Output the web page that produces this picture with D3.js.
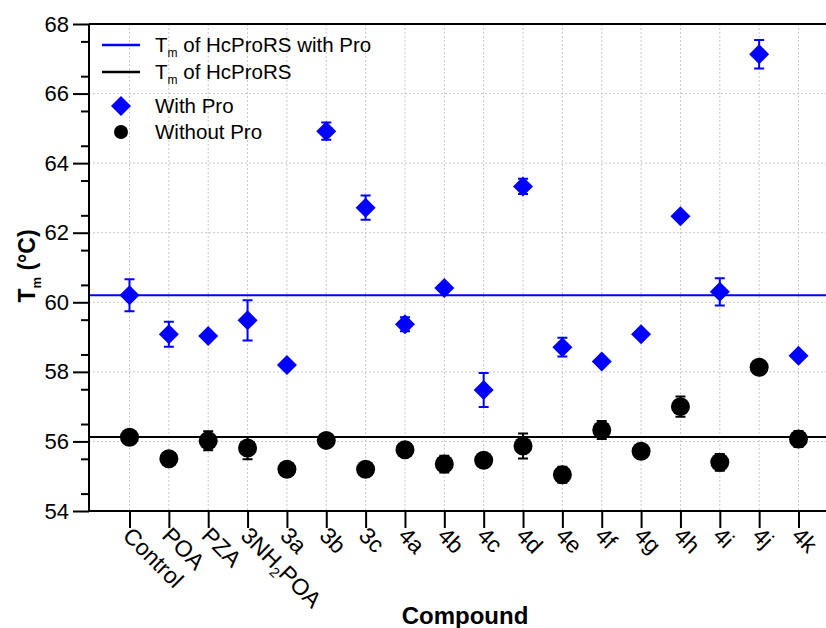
<!DOCTYPE html>
<html>
<head>
<meta charset="utf-8">
<script src="https://cdn.jsdelivr.net/npm/d3@7"></script>
<style>
  body { margin: 0; background: #fff; }
  text { font-family: "Liberation Sans", Arial, sans-serif; }
</style>
</head>
<body>
<div id="chart"></div>
<script>
/* Tm of HcProRS with / without Pro for each compound */

const compounds = ["Control", "POA", "PZA", "3NH2POA", "3a", "3b", "3c", "4a", "4b", "4c",
    "4d", "4e", "4f", "4g", "4h", "4i", "4j", "4k"];

const withPro = [60.2, 59.08, 59.03, 59.48, 58.2, 64.92, 62.72, 59.37, 60.41, 57.48,
    63.33, 58.71, 58.3, 59.08, 62.47, 60.3, 67.13, 58.46];
const withProErr = [0.46, 0.36, 0.1, 0.58, 0.1, 0.25, 0.35, 0.2, 0.1, 0.49,
    0.22, 0.27, 0.1, 0.1, 0.1, 0.39, 0.41, 0.1];

const withoutPro = [56.12, 55.5, 56.02, 55.81, 55.2, 56.03, 55.2, 55.76, 55.35, 55.46,
    55.87, 55.04, 56.33, 55.72, 57.0, 55.4, 58.13, 56.07];
const withoutProErr = [0.1, 0.1, 0.27, 0.32, 0.1, 0.1, 0.1, 0.1, 0.24, 0.1,
    0.36, 0.23, 0.26, 0.1, 0.29, 0.24, 0.1, 0.23];

const refWithPro = 60.2, refWithout = 56.13;
const yTicks = [54, 56, 58, 60, 62, 64, 66, 68];

const width = 826, height = 628;
const margin = { top: 24, right: -11, bottom: 117, left: 89 };

let svg = d3.select("#chart")
    .append("svg")
    .attr("width", width)
    .attr("height", height)
    .attr("viewBox", [0, 0, width, height]);

let x = d3.scalePoint()
    .domain(compounds)
    .range([129.5, 798.5]);

let y = d3.scaleLinear()
    .domain([54, 68])
    .range([height - margin.bottom, margin.top]);

const x0 = margin.left, x1 = width - margin.right;
const yb = y(54), yt = y(68);

/* grid */
svg.append("g")
    .selectAll("line")
    .data(compounds)
    .join("line")
    .attr("x1", d => x(d)).attr("x2", d => x(d))
    .attr("y1", yt).attr("y2", yb)
    .attr("stroke", "#c8c8c8")
    .attr("stroke-dasharray", "2,2");

svg.append("g")
    .selectAll("line")
    .data(yTicks.slice(1, -1))
    .join("line")
    .attr("x1", x0).attr("x2", x1)
    .attr("y1", d => y(d)).attr("y2", d => y(d))
    .attr("stroke", "#c8c8c8")
    .attr("stroke-dasharray", "2,2");

/* reference lines */
svg.append("line")
    .attr("x1", x0).attr("x2", x1)
    .attr("y1", y(refWithPro)).attr("y2", y(refWithPro))
    .attr("stroke", "#0000ff").attr("stroke-width", 2);
svg.append("line")
    .attr("x1", x0).attr("x2", x1)
    .attr("y1", y(refWithout)).attr("y2", y(refWithout))
    .attr("stroke", "#000").attr("stroke-width", 2);

/* axes */
let yAxis = svg.append("g")
    .attr("transform", `translate(${x0},0)`)
    .call(d3.axisLeft(y).tickValues(yTicks).tickSize(16).tickPadding(4).tickFormat(d3.format("d")));
yAxis.select(".domain").remove();
yAxis.selectAll("line").attr("stroke-width", 2);
yAxis.selectAll("text").style("font-size", "22px").attr("fill", "#000");

svg.append("g")
    .attr("transform", `translate(${x0},0)`)
    .call(d3.axisLeft(y).tickValues(d3.range(54.5, 68, 1)).tickSize(8).tickFormat(""))
    .call(g => g.select(".domain").remove())
    .selectAll("line").attr("stroke-width", 2);

let xAxis = svg.append("g")
    .attr("transform", `translate(0,${yb})`)
    .call(d3.axisBottom(x).tickSize(17).tickFormat(""));
xAxis.select(".domain").remove();
xAxis.selectAll("line").attr("stroke-width", 2);

/* x labels rotated */
let xl = svg.append("g")
    .selectAll("text")
    .data(compounds)
    .join("text")
    .attr("transform", d => `translate(${x(d) - 8},${yb + 26}) rotate(45)`)
    .style("font-size", "23px");
xl.each(function(d) {
    let t = d3.select(this);
    if (d === "3NH2POA") {
        t.append("tspan").text("3NH");
        t.append("tspan").text("2").style("font-size", "14px").attr("dy", 5);
        t.append("tspan").text("POA").attr("dy", -5);
    } else {
        t.text(d);
    }
});

/* frame */
svg.append("path")
    .attr("d", `M${x0},${yt}H${x1}M${x0},${yt}V${yb}H${x1}`)
    .attr("fill", "none")
    .attr("stroke", "#000")
    .attr("stroke-width", 2);

/* axis titles */
svg.append("text")
    .attr("x", 465).attr("y", 624)
    .attr("text-anchor", "middle")
    .style("font-size", "24px").style("font-weight", "bold")
    .text("Compound");

let yt2 = svg.append("text")
    .attr("transform", `translate(35,266) rotate(-90)`)
    .attr("text-anchor", "middle")
    .style("font-size", "23px").style("font-weight", "bold");
yt2.append("tspan").text("T");
yt2.append("tspan").text("m").style("font-size", "13px").attr("dy", 6);
yt2.append("tspan").text(" (°C)").attr("dy", -6);

/* error bars */
function errBars(vals, errs, color) {
    let g = svg.append("g").attr("stroke", color).attr("stroke-width", 2);
    g.selectAll(".eb")
        .data(compounds)
        .join("path")
        .attr("d", (d, i) => {
            let cx = x(d), lo = y(vals[i] - errs[i]), hi = y(vals[i] + errs[i]);
            return `M${cx},${lo}V${hi}M${cx - 5},${hi}H${cx + 5}M${cx - 5},${lo}H${cx + 5}`;
        })
        .attr("fill", "none");
}
errBars(withPro, withProErr, "#0000ff");
errBars(withoutPro, withoutProErr, "#000");

/* points */
svg.append("g")
    .selectAll("path")
    .data(compounds)
    .join("path")
    .attr("transform", (d, i) => `translate(${x(d)},${y(withPro[i])})`)
    .attr("d", "M0,-10L10,0L0,10L-10,0Z")
    .attr("fill", "#0000ff");

svg.append("g")
    .selectAll("circle")
    .data(compounds)
    .join("circle")
    .attr("cx", d => x(d))
    .attr("cy", (d, i) => y(withoutPro[i]))
    .attr("r", 9.5)
    .attr("fill", "#000");

/* legend */
let leg = svg.append("g").style("font-size", "20.5px");
const legRows = [
    { kind: "line", color: "#0000ff", label: "HcProRS with Pro", y: 45 },
    { kind: "line", color: "#000", label: "HcProRS", y: 72 },
    { kind: "diamond", color: "#0000ff", label: "With Pro", y: 106 },
    { kind: "circle", color: "#000", label: "Without Pro", y: 132 }
];
legRows.forEach(r => {
    if (r.kind === "line") {
        leg.append("line").attr("x1", 102).attr("x2", 140).attr("y1", r.y).attr("y2", r.y)
            .attr("stroke", r.color).attr("stroke-width", 2.5);
        let t = leg.append("text").attr("x", 155).attr("y", r.y + 7);
        t.append("tspan").text("T");
        t.append("tspan").text("m").style("font-size", "12px").attr("dy", 5);
        t.append("tspan").text(" of " + r.label).attr("dy", -5);
    } else {
        if (r.kind === "diamond") {
            leg.append("path").attr("transform", `translate(121,${r.y})`)
                .attr("d", "M0,-10L10,0L0,10L-10,0Z").attr("fill", r.color);
        } else {
            leg.append("circle").attr("cx", 121).attr("cy", r.y).attr("r", 7).attr("fill", r.color);
        }
        leg.append("text").attr("x", 155).attr("y", r.y + 7).text(r.label);
    }
});
</script>
</body>
</html>
